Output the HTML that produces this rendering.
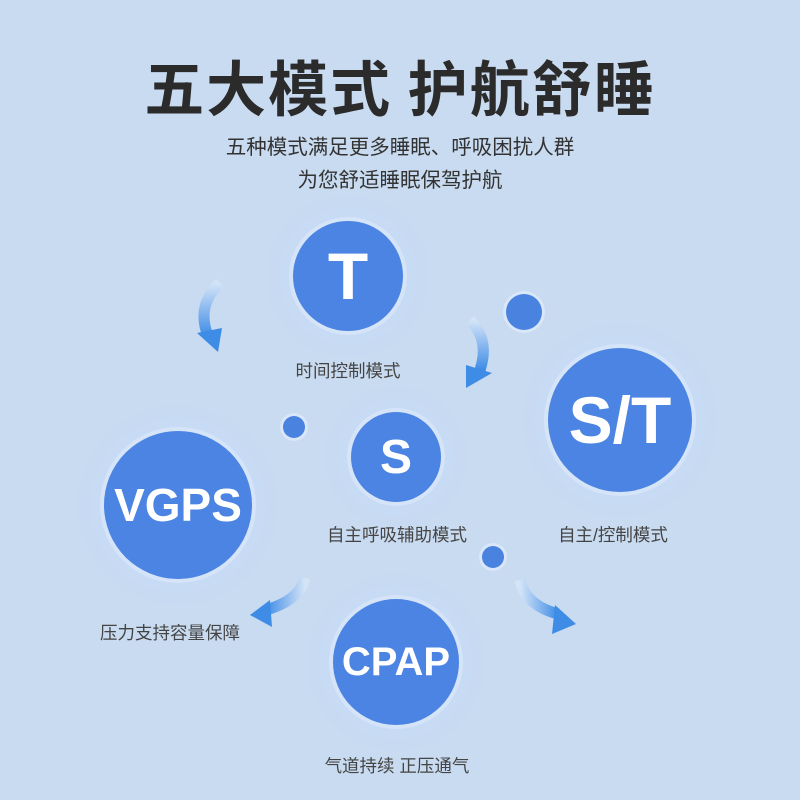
<!DOCTYPE html>
<html><head><meta charset="utf-8"><style>
body{margin:0;width:800px;height:800px;background:#c9dbf0;position:relative;overflow:hidden;font-family:"Liberation Sans","Noto Sans CJK SC",sans-serif}
.t{position:absolute;left:0;width:800px;text-align:center;white-space:nowrap}
.c{position:absolute;border-radius:50%;background:radial-gradient(circle,#4b84e2 70%,#5b8fe6 92%,#b9d0f5 100%);color:#fff;font-weight:bold;display:flex;align-items:center;justify-content:center;box-shadow:0 0 0 4px rgba(220,232,250,.7),0 0 0 14px rgba(200,220,250,.35),0 0 0 26px rgba(195,215,248,.25)}
.d{position:absolute;border-radius:50%;background:#4a82e0;box-shadow:0 0 0 3px rgba(225,235,252,.7)}
.l{position:absolute;font-size:17.5px;color:#444;white-space:nowrap;transform:translateX(-50%)}
</style></head><body>
<div class="t" style="top:42px;font-size:60px;font-weight:bold;color:#2b2b2b;letter-spacing:2px;font-family:'Noto Sans CJK SC',sans-serif">五大模式 护航舒睡</div>
<div class="t" style="top:130px;font-size:20.5px;color:#333">五种模式满足更多睡眠、呼吸困扰人群</div>
<div class="t" style="top:163px;font-size:20.5px;color:#333">为您舒适睡眠保驾护航</div>

<svg style="position:absolute;left:0;top:0" width="800" height="800">
<defs><linearGradient id="g" x1="0" y1="0" x2="0" y2="1"><stop offset="0" stop-color="#d4e4f7"/><stop offset="1" stop-color="#3f8ce6"/></linearGradient>
<linearGradient id="gh" x1="1" y1="0" x2="0" y2="0"><stop offset="0" stop-color="#d4e4f7"/><stop offset="1" stop-color="#3f8ce6"/></linearGradient>
<linearGradient id="gh2" x1="0" y1="0" x2="1" y2="0"><stop offset="0" stop-color="#d4e4f7"/><stop offset="1" stop-color="#3f8ce6"/></linearGradient></defs>
<path d="M220 283 Q196 305 208 336" stroke="url(#g)" stroke-width="11" fill="none"/>
<polygon points="197,333 222,328 218,352" fill="#3f8ce6"/>
<path d="M470 320 Q490 340 480 370" stroke="url(#g)" stroke-width="11" fill="none"/>
<polygon points="466,365 492,373 466,388" fill="#3f8ce6"/>
<path d="M305 578 Q300 600 266 610" stroke="url(#gh)" stroke-width="11" fill="none"/>
<polygon points="250,615 270,600 272,627" fill="#3f8ce6"/>
<path d="M520 580 Q525 605 558 614" stroke="url(#gh2)" stroke-width="11" fill="none"/>
<polygon points="576,624 555,605 552,634" fill="#3f8ce6"/>
</svg>

<div class="c" style="left:293px;top:221px;width:110px;height:110px;font-size:66px">T</div>
<div class="c" style="left:548px;top:348px;width:144px;height:144px;font-size:66px">S/T</div>
<div class="c" style="left:351px;top:412px;width:90px;height:90px;font-size:48px">S</div>
<div class="c" style="left:104px;top:431px;width:148px;height:148px;font-size:46px">VGPS</div>
<div class="c" style="left:333px;top:599px;width:126px;height:126px;font-size:40px">CPAP</div>
<div class="d" style="left:506px;top:294px;width:36px;height:36px"></div>
<div class="d" style="left:283px;top:416px;width:22px;height:22px"></div>
<div class="d" style="left:482px;top:546px;width:22px;height:22px"></div>

<div class="l" style="left:348px;top:358px">时间控制模式</div>
<div class="l" style="left:397px;top:522px">自主呼吸辅助模式</div>
<div class="l" style="left:613px;top:522px">自主/控制模式</div>
<div class="l" style="left:170px;top:620px">压力支持容量保障</div>
<div class="l" style="left:397px;top:753px">气道持续 正压通气</div>
</body></html>
